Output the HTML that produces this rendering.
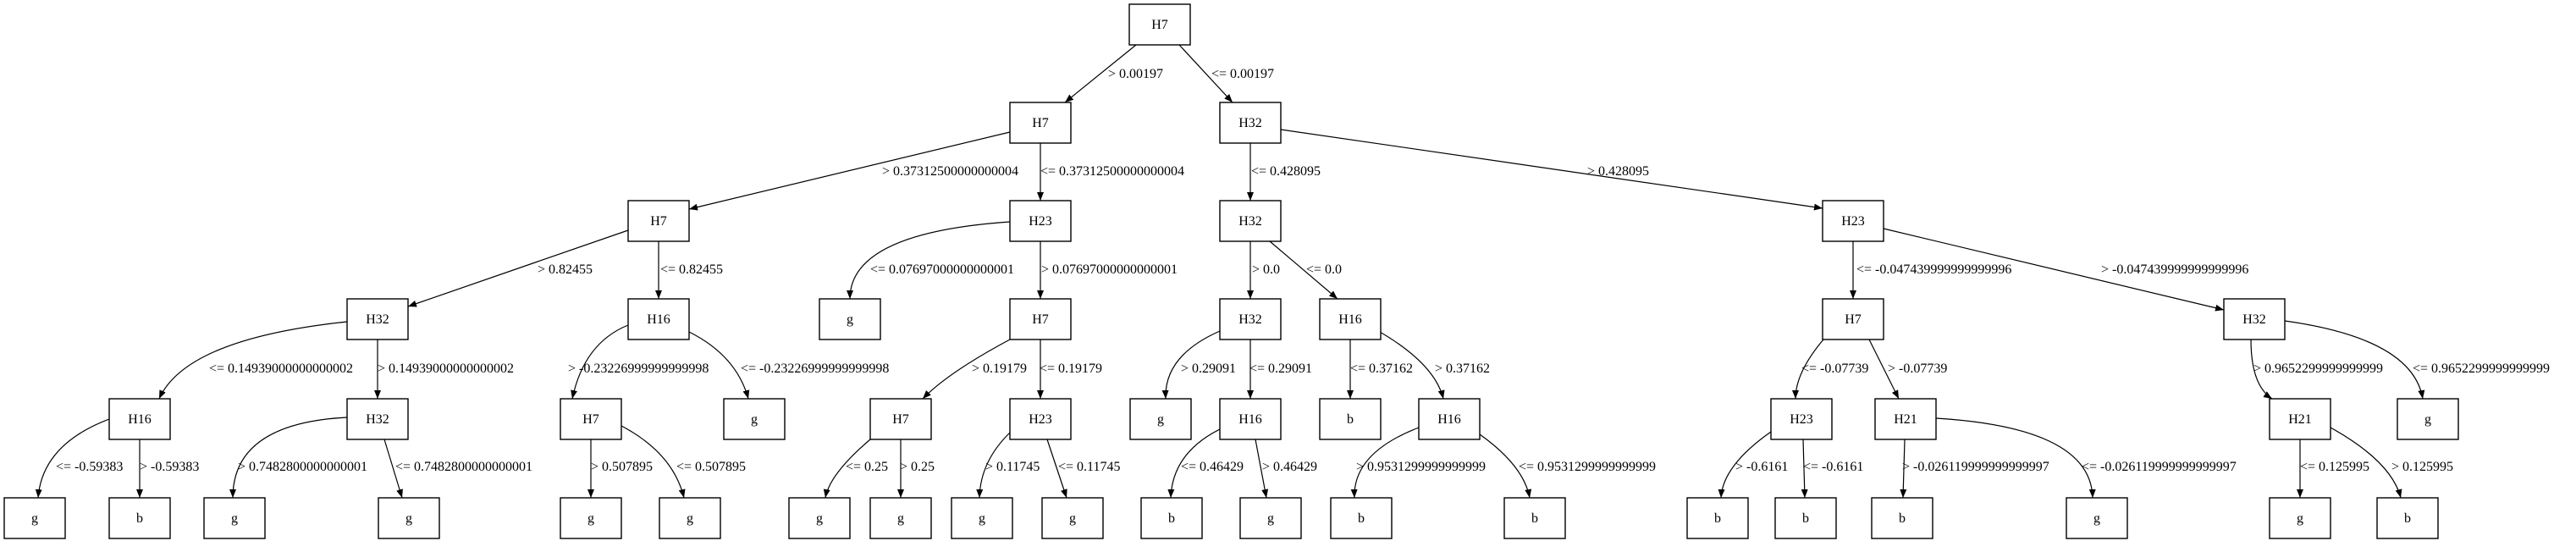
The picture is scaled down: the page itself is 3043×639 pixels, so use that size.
<!DOCTYPE html>
<html><head><meta charset="utf-8"><style>
html,body{margin:0;padding:0;background:#fff;}
svg{display:block;}
text{font-family:"Liberation Serif",serif;font-size:16px;fill:#000;}
.n text{text-anchor:middle;}
rect{fill:#fff;stroke:#000;stroke-width:1.4;}
path.e{fill:none;stroke:#000;stroke-width:1.2;marker-end:url(#a);}
</style></head><body>
<svg width="3043" height="639" viewBox="0 0 3043 639" xmlns="http://www.w3.org/2000/svg">
<defs><marker id="a" markerUnits="userSpaceOnUse" markerWidth="11" markerHeight="8" refX="10" refY="4" orient="auto"><path d="M0,0 L10,4 L0,8 z" fill="#000"/></marker></defs>
<g>
<path class="e" d="M1342,53 L1258,121"/>
<path class="e" d="M1393,53 L1456,121"/>
<path class="e" d="M1193,156 L814,247"/>
<path class="e" d="M1229,169 L1229,237"/>
<path class="e" d="M1477,169 L1477,237"/>
<path class="e" d="M1513,153 L2153,246"/>
<path class="e" d="M742,272 L482,362"/>
<path class="e" d="M778,285 L778,353"/>
<path class="e" d="M1193,262 Q1004,275 1004,353"/>
<path class="e" d="M1229,285 L1229,353"/>
<path class="e" d="M1477,285 L1477,353"/>
<path class="e" d="M1500,285 L1580,353"/>
<path class="e" d="M2189,285 L2189,353"/>
<path class="e" d="M2225,270 L2627,366"/>
<path class="e" d="M410,380 Q220,400 188,471"/>
<path class="e" d="M446,401 L446,471"/>
<path class="e" d="M742,384 Q690,405 676,471"/>
<path class="e" d="M814,392 Q870,420 884,471"/>
<path class="e" d="M1193,401 Q1120,440 1090,471"/>
<path class="e" d="M1229,401 L1229,471"/>
<path class="e" d="M1441,391 Q1375,420 1377,471"/>
<path class="e" d="M1477,401 L1477,471"/>
<path class="e" d="M1595,401 L1595,471"/>
<path class="e" d="M1630,392 Q1695,430 1705,471"/>
<path class="e" d="M2154,401 Q2121,440 2121,471"/>
<path class="e" d="M2208,401 L2243,471"/>
<path class="e" d="M2659,401 Q2659,455 2684,471"/>
<path class="e" d="M2699,379 Q2850,400 2862,471"/>
<path class="e" d="M129,495 Q50,525 45,588"/>
<path class="e" d="M165,519 L165,588"/>
<path class="e" d="M410,493 Q275,500 275,588"/>
<path class="e" d="M454,519 L475,588"/>
<path class="e" d="M698,519 L698,588"/>
<path class="e" d="M734,503 Q795,535 808,588"/>
<path class="e" d="M1028,519 Q980,560 975,588"/>
<path class="e" d="M1064,519 L1064,588"/>
<path class="e" d="M1193,511 Q1158,545 1157,588"/>
<path class="e" d="M1237,519 L1260,588"/>
<path class="e" d="M1441,507 Q1385,535 1383,588"/>
<path class="e" d="M1483,519 L1496,588"/>
<path class="e" d="M1676,505 Q1598,535 1600,588"/>
<path class="e" d="M1748,513 Q1800,550 1807,588"/>
<path class="e" d="M2092,510 Q2035,550 2033,588"/>
<path class="e" d="M2130,519 L2132,588"/>
<path class="e" d="M2250,519 L2248,588"/>
<path class="e" d="M2287,494 Q2470,505 2472,588"/>
<path class="e" d="M2717,519 L2717,588"/>
<path class="e" d="M2753,505 Q2825,545 2836,588"/>
</g>
<g class="n">
<rect x="1334" y="5" width="72" height="48"/><text x="1370" y="34">H7</text>
<rect x="1193" y="121" width="72" height="48"/><text x="1229" y="150">H7</text>
<rect x="1441" y="121" width="72" height="48"/><text x="1477" y="150">H32</text>
<rect x="742" y="237" width="72" height="48"/><text x="778" y="266">H7</text>
<rect x="1193" y="237" width="72" height="48"/><text x="1229" y="266">H23</text>
<rect x="1441" y="237" width="72" height="48"/><text x="1477" y="266">H32</text>
<rect x="2153" y="237" width="72" height="48"/><text x="2189" y="266">H23</text>
<rect x="410" y="353" width="72" height="48"/><text x="446" y="382">H32</text>
<rect x="742" y="353" width="72" height="48"/><text x="778" y="382">H16</text>
<rect x="968" y="353" width="72" height="48"/><text x="1004" y="382">g</text>
<rect x="1193" y="353" width="72" height="48"/><text x="1229" y="382">H7</text>
<rect x="1441" y="353" width="72" height="48"/><text x="1477" y="382">H32</text>
<rect x="1559" y="353" width="72" height="48"/><text x="1595" y="382">H16</text>
<rect x="2153" y="353" width="72" height="48"/><text x="2189" y="382">H7</text>
<rect x="2627" y="353" width="72" height="48"/><text x="2663" y="382">H32</text>
<rect x="129" y="471" width="72" height="48"/><text x="165" y="500">H16</text>
<rect x="410" y="471" width="72" height="48"/><text x="446" y="500">H32</text>
<rect x="662" y="471" width="72" height="48"/><text x="698" y="500">H7</text>
<rect x="855" y="471" width="72" height="48"/><text x="891" y="500">g</text>
<rect x="1028" y="471" width="72" height="48"/><text x="1064" y="500">H7</text>
<rect x="1193" y="471" width="72" height="48"/><text x="1229" y="500">H23</text>
<rect x="1335" y="471" width="72" height="48"/><text x="1371" y="500">g</text>
<rect x="1441" y="471" width="72" height="48"/><text x="1477" y="500">H16</text>
<rect x="1559" y="471" width="72" height="48"/><text x="1595" y="500">b</text>
<rect x="1676" y="471" width="72" height="48"/><text x="1712" y="500">H16</text>
<rect x="2092" y="471" width="72" height="48"/><text x="2128" y="500">H23</text>
<rect x="2215" y="471" width="72" height="48"/><text x="2251" y="500">H21</text>
<rect x="2681" y="471" width="72" height="48"/><text x="2717" y="500">H21</text>
<rect x="2832" y="471" width="72" height="48"/><text x="2868" y="500">g</text>
<rect x="5" y="588" width="72" height="48"/><text x="41" y="617">g</text>
<rect x="129" y="588" width="72" height="48"/><text x="165" y="617">b</text>
<rect x="241" y="588" width="72" height="48"/><text x="277" y="617">g</text>
<rect x="447" y="588" width="72" height="48"/><text x="483" y="617">g</text>
<rect x="662" y="588" width="72" height="48"/><text x="698" y="617">g</text>
<rect x="779" y="588" width="72" height="48"/><text x="815" y="617">g</text>
<rect x="932" y="588" width="72" height="48"/><text x="968" y="617">g</text>
<rect x="1028" y="588" width="72" height="48"/><text x="1064" y="617">g</text>
<rect x="1124" y="588" width="72" height="48"/><text x="1160" y="617">g</text>
<rect x="1231" y="588" width="72" height="48"/><text x="1267" y="617">g</text>
<rect x="1348" y="588" width="72" height="48"/><text x="1384" y="617">b</text>
<rect x="1465" y="588" width="72" height="48"/><text x="1501" y="617">g</text>
<rect x="1572" y="588" width="72" height="48"/><text x="1608" y="617">b</text>
<rect x="1777" y="588" width="72" height="48"/><text x="1813" y="617">b</text>
<rect x="1993" y="588" width="72" height="48"/><text x="2029" y="617">b</text>
<rect x="2097" y="588" width="72" height="48"/><text x="2133" y="617">b</text>
<rect x="2211" y="588" width="72" height="48"/><text x="2247" y="617">b</text>
<rect x="2441" y="588" width="72" height="48"/><text x="2477" y="617">g</text>
<rect x="2681" y="588" width="72" height="48"/><text x="2717" y="617">g</text>
<rect x="2808" y="588" width="72" height="48"/><text x="2844" y="617">b</text>
</g>
<g>
<text x="1309" y="92">&gt; 0.00197</text>
<text x="1431" y="92">&lt;= 0.00197</text>
<text x="1042" y="207">&gt; 0.37312500000000004</text>
<text x="1229" y="207">&lt;= 0.37312500000000004</text>
<text x="1478" y="207">&lt;= 0.428095</text>
<text x="1875" y="207">&gt; 0.428095</text>
<text x="635" y="323">&gt; 0.82455</text>
<text x="780" y="323">&lt;= 0.82455</text>
<text x="1028" y="323">&lt;= 0.07697000000000001</text>
<text x="1230" y="323">&gt; 0.07697000000000001</text>
<text x="1479" y="323">&gt; 0.0</text>
<text x="1543" y="323">&lt;= 0.0</text>
<text x="2193" y="323">&lt;= -0.047439999999999996</text>
<text x="2482" y="323">&gt; -0.047439999999999996</text>
<text x="247" y="440">&lt;= 0.14939000000000002</text>
<text x="446" y="440">&gt; 0.14939000000000002</text>
<text x="671" y="440">&gt; -0.23226999999999998</text>
<text x="875" y="440">&lt;= -0.23226999999999998</text>
<text x="1148" y="440">&gt; 0.19179</text>
<text x="1228" y="440">&lt;= 0.19179</text>
<text x="1395" y="440">&gt; 0.29091</text>
<text x="1476" y="440">&lt;= 0.29091</text>
<text x="1595" y="440">&lt;= 0.37162</text>
<text x="1695" y="440">&gt; 0.37162</text>
<text x="2128" y="440">&lt;= -0.07739</text>
<text x="2230" y="440">&gt; -0.07739</text>
<text x="2662" y="440">&gt; 0.9652299999999999</text>
<text x="2850" y="440">&lt;= 0.9652299999999999</text>
<text x="66" y="556">&lt;= -0.59383</text>
<text x="165" y="556">&gt; -0.59383</text>
<text x="281" y="556">&gt; 0.7482800000000001</text>
<text x="467" y="556">&lt;= 0.7482800000000001</text>
<text x="698" y="556">&gt; 0.507895</text>
<text x="799" y="556">&lt;= 0.507895</text>
<text x="999" y="556">&lt;= 0.25</text>
<text x="1063" y="556">&gt; 0.25</text>
<text x="1164" y="556">&gt; 0.11745</text>
<text x="1250" y="556">&lt;= 0.11745</text>
<text x="1395" y="556">&lt;= 0.46429</text>
<text x="1491" y="556">&gt; 0.46429</text>
<text x="1602" y="556">&gt; 0.9531299999999999</text>
<text x="1794" y="556">&lt;= 0.9531299999999999</text>
<text x="2050" y="556">&gt; -0.6161</text>
<text x="2130" y="556">&lt;= -0.6161</text>
<text x="2247" y="556">&gt; -0.026119999999999997</text>
<text x="2459" y="556">&lt;= -0.026119999999999997</text>
<text x="2717" y="556">&lt;= 0.125995</text>
<text x="2825" y="556">&gt; 0.125995</text>
</g>
</svg>
</body></html>
